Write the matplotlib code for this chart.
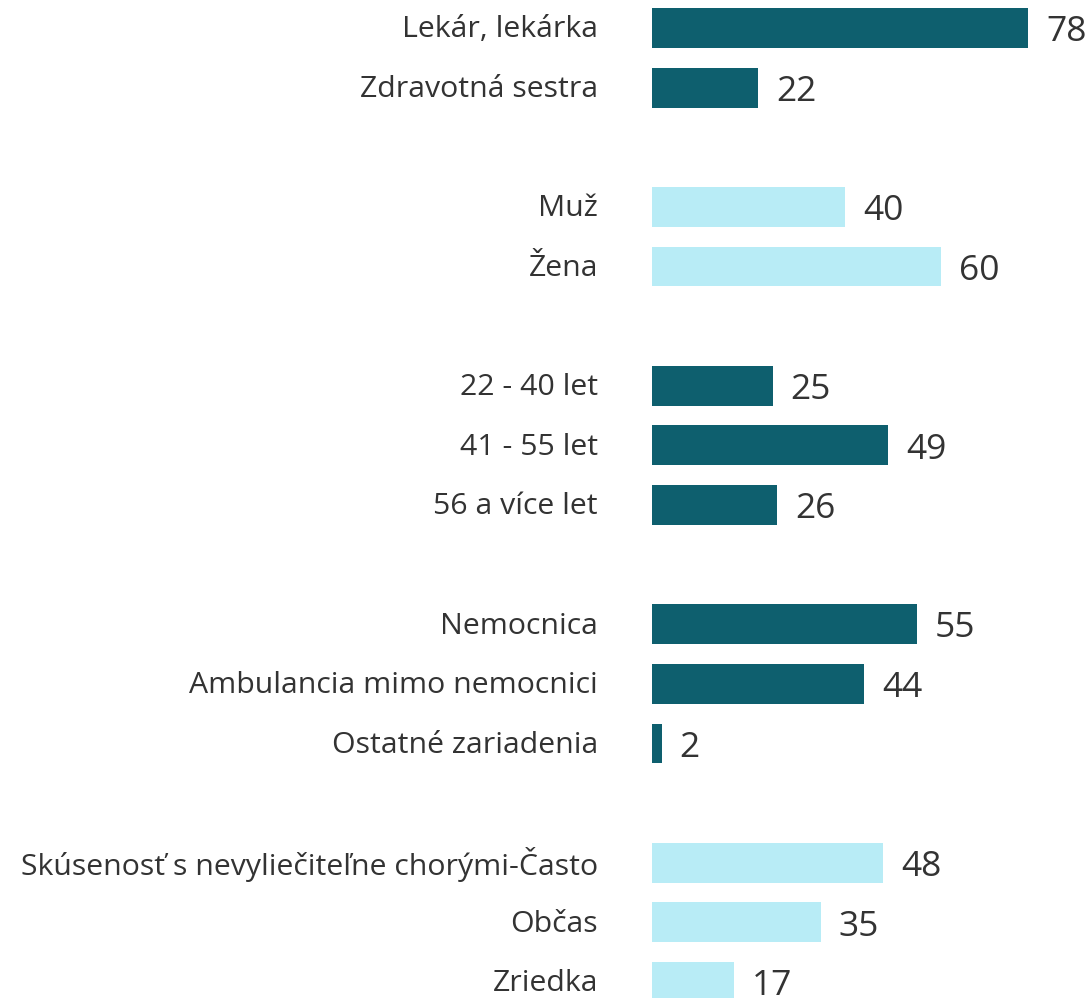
import matplotlib
matplotlib.use("Agg")
import matplotlib.pyplot as plt

categories = ["Lekár, lekárka", "Zdravotná sestra", None,
              "Muž", "Žena", None,
              "22 - 40 let", "41 - 55 let", "56 a více let", None,
              "Nemocnica", "Ambulancia mimo nemocnici", "Ostatné zariadenia", None,
              "Skúsenosť s nevyliečiteľne chorými-Často", "Občas", "Zriedka"]
values = [78, 22, None, 40, 60, None, 25, 49, 26, None, 55, 44, 2, None, 48, 35, 17]
group_color = ["dark", "dark", None, "light", "light", None,
               "dark", "dark", "dark", None, "dark", "dark", "dark", None,
               "light", "light", "light"]

colors = {"dark": "#0E5F6E", "light": "#B8ECF6"}
text_color = "#333333"
plt.rcParams['font.family'] = ['Open Sans', 'DejaVu Sans']

W, H = 1089, 998
fig = plt.figure(figsize=(W / 100, H / 100), dpi=100)
x0 = 652 / W
ax = fig.add_axes([x0, 0, 1 - x0, 1])
scale = 376 / 78  # px per unit
ax.set_xlim(0, (W - 652) / scale)
slot = 59.6
ax.set_ylim(16 + 16 / slot, -28 / slot)

for i, (c, v, g) in enumerate(zip(categories, values, group_color)):
    if c is None:
        continue
    ax.barh(i, v, height=0.67, color=colors[g])
    ax.text(v + 18 / scale, i + 0.07, f"{v}", va="center", ha="left",
            fontsize=25.5, color=text_color, clip_on=False)
    ax.text(-54 / scale, i + 0.03, c, va="center", ha="right", fontsize=21.8,
            color=text_color, clip_on=False)

ax.axis("off")
fig.savefig("out.png", dpi=100)
